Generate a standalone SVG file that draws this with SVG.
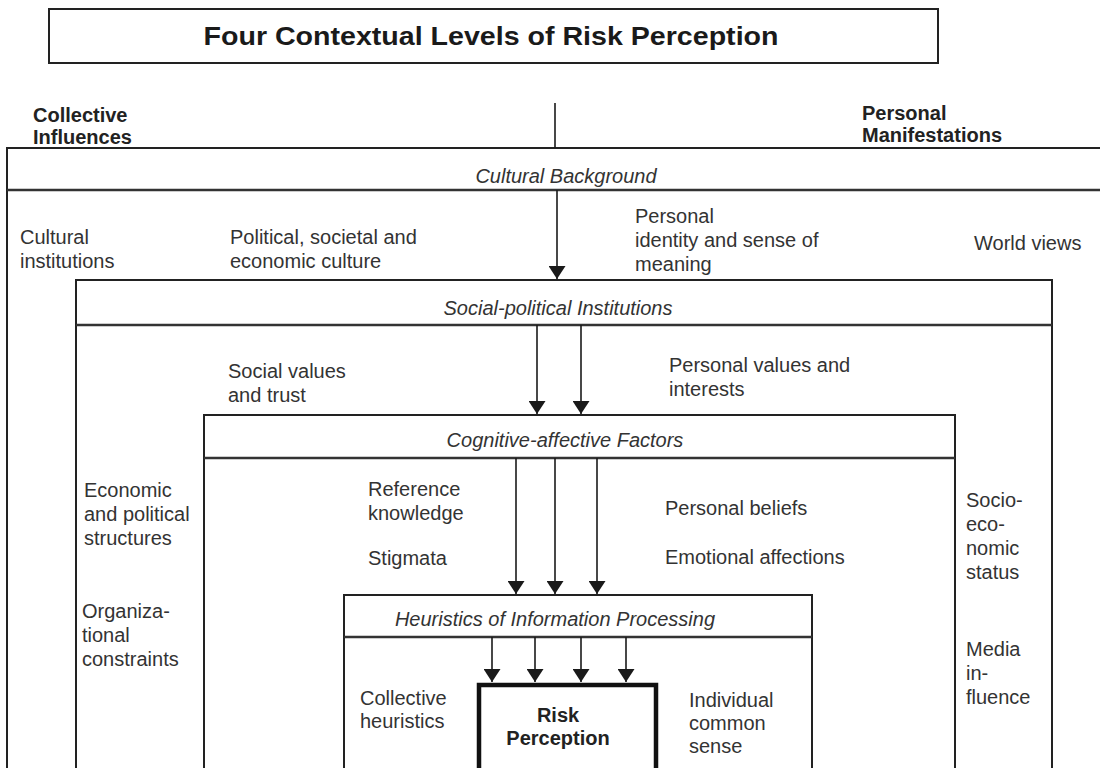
<svg xmlns="http://www.w3.org/2000/svg" width="1100" height="768" viewBox="0 0 1100 768">
<defs>
<marker id="ah" viewBox="0 0 14 10" refX="14" refY="5" markerWidth="13" markerHeight="17" markerUnits="userSpaceOnUse" orient="auto" preserveAspectRatio="none">
<path d="M0,0 L14,5 L0,10 z" fill="#1a1a1a"/>
</marker>
<style>
.box{fill:none;stroke:#222;stroke-width:2}
.hl{stroke:#333;stroke-width:2.5}
.t{font-family:"Liberation Sans",Arial,sans-serif;font-size:20px;fill:#333}
.h{font-family:"Liberation Sans",Arial,sans-serif;font-size:20px;font-style:italic;fill:#333;text-anchor:middle}
.b{font-family:"Liberation Sans",Arial,sans-serif;font-size:20px;font-weight:bold;fill:#222}
.c{stroke:#1a1a1a;stroke-width:1.6;fill:none}
</style>
</defs>
<rect width="1100" height="768" fill="#fff"/>
<g id="title">
<rect x="49" y="9" width="889" height="54" class="box"/>
<text x="491" y="45" font-family="Liberation Sans,Arial,sans-serif" font-size="26" font-weight="bold" fill="#1a1a1a" text-anchor="middle" textLength="575" lengthAdjust="spacingAndGlyphs">Four Contextual Levels of Risk Perception</text>
</g>
<g id="axis-labels">
<text class="b" x="33" y="122">Collective</text>
<text class="b" x="33" y="144">Influences</text>
<text class="b" x="862" y="120">Personal</text>
<text class="b" x="862" y="142">Manifestations</text>
</g>
<g id="cultural-background">
<path d="M7,780 V148 H1110" class="box"/>
<line x1="7" y1="190" x2="1100" y2="190" class="hl"/>
<text class="h" x="566" y="183">Cultural Background</text>
<text class="t" x="20" y="244">Cultural</text>
<text class="t" x="20" y="268">institutions</text>
<text class="t" x="230" y="244">Political, societal and</text>
<text class="t" x="230" y="268">economic culture</text>
<text class="t" x="635" y="223">Personal</text>
<text class="t" x="635" y="247">identity and sense of</text>
<text class="t" x="635" y="271">meaning</text>
<text class="t" x="974" y="250">World views</text>
</g>
<g id="social-political">
<path d="M76,780 V280 H1052 V780" class="box"/>
<line x1="76" y1="325" x2="1052" y2="325" class="hl"/>
<text class="h" x="558" y="315">Social-political Institutions</text>
<text class="t" x="228" y="378">Social values</text>
<text class="t" x="228" y="402">and trust</text>
<text class="t" x="669" y="372">Personal values and</text>
<text class="t" x="669" y="396">interests</text>
<text class="t" x="84" y="497">Economic</text>
<text class="t" x="84" y="521">and political</text>
<text class="t" x="84" y="545">structures</text>
<text class="t" x="82" y="618">Organiza-</text>
<text class="t" x="82" y="642">tional</text>
<text class="t" x="82" y="666">constraints</text>
<text class="t" x="966" y="507">Socio-</text>
<text class="t" x="966" y="531">eco-</text>
<text class="t" x="966" y="555">nomic</text>
<text class="t" x="966" y="579">status</text>
<text class="t" x="966" y="656">Media</text>
<text class="t" x="966" y="680">in-</text>
<text class="t" x="966" y="704">fluence</text>
</g>
<g id="cognitive-affective">
<path d="M204,780 V415 H955 V780" class="box"/>
<line x1="204" y1="458" x2="955" y2="458" class="hl"/>
<text class="h" x="565" y="447">Cognitive-affective Factors</text>
<text class="t" x="368" y="496">Reference</text>
<text class="t" x="368" y="520">knowledge</text>
<text class="t" x="368" y="565">Stigmata</text>
<text class="t" x="665" y="515">Personal beliefs</text>
<text class="t" x="665" y="564">Emotional affections</text>
</g>
<g id="heuristics">
<path d="M344,780 V595 H812 V780" class="box"/>
<line x1="344" y1="637" x2="812" y2="637" class="hl"/>
<text class="h" x="555" y="626">Heuristics of Information Processing</text>
<text class="t" x="360" y="705">Collective</text>
<text class="t" x="360" y="728">heuristics</text>
<text class="t" x="689" y="707">Individual</text>
<text class="t" x="689" y="730">common</text>
<text class="t" x="689" y="753">sense</text>
</g>
<g id="risk-perception">
<path d="M479,780 V685 H656 V780" fill="none" stroke="#111" stroke-width="4.5"/>
<text class="b" x="558" y="722" text-anchor="middle">Risk</text>
<text class="b" x="558" y="745" text-anchor="middle">Perception</text>
</g>
<g id="connectors">
<line x1="555" y1="103" x2="555" y2="148" class="c"/>
<line x1="557" y1="190" x2="557" y2="279" class="c" marker-end="url(#ah)"/>
<line x1="537" y1="325" x2="537" y2="414" class="c" marker-end="url(#ah)"/>
<line x1="581" y1="325" x2="581" y2="414" class="c" marker-end="url(#ah)"/>
<line x1="516" y1="458" x2="516" y2="594" class="c" marker-end="url(#ah)"/>
<line x1="555" y1="458" x2="555" y2="594" class="c" marker-end="url(#ah)"/>
<line x1="597" y1="458" x2="597" y2="594" class="c" marker-end="url(#ah)"/>
<line x1="492" y1="637" x2="492" y2="682" class="c" marker-end="url(#ah)"/>
<line x1="535" y1="637" x2="535" y2="682" class="c" marker-end="url(#ah)"/>
<line x1="581" y1="637" x2="581" y2="682" class="c" marker-end="url(#ah)"/>
<line x1="626" y1="637" x2="626" y2="682" class="c" marker-end="url(#ah)"/>
</g>
</svg>
